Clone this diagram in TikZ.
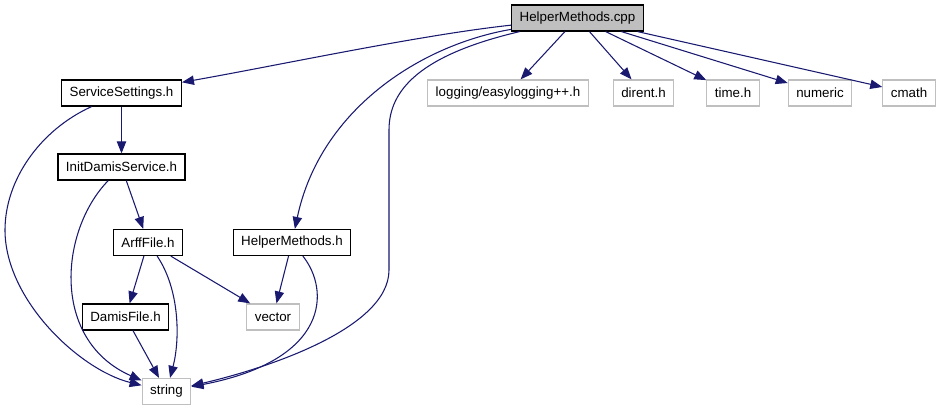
\documentclass[tikz,border=0pt]{standalone}
\usepackage{fontspec}
\setmainfont{Liberation Sans}
\usetikzlibrary{arrows.meta}
\definecolor{edgeblue}{HTML}{191970}
\definecolor{boxgray}{HTML}{BFBFBF}
\begin{document}
\begin{tikzpicture}[x=0.75pt, y=-0.75pt, font=\fontsize{10}{12}\selectfont,
    file/.style={draw=black, line width=0.9pt, minimum height=19.5pt,
        inner xsep=6pt, inner ysep=0pt},
    sysfile/.style={file, draw=boxgray},
    incl/.style={draw=edgeblue, line width=0.8pt,
        -{Triangle[length=9pt,width=7pt]}}]
    \useasboundingbox (0,0) rectangle (944,411);
    % glavni fajl
    \node [file, fill=boxgray] (cpp) at (577.5,18) {HelperMethods.cpp};
    % prvi red zaglavlja
    \node [file]    (svc)     at (121.5,93) {ServiceSettings.h};
    \node [sysfile] (logging) at (508,93)   {logging/easylogging++.h};
    \node [sysfile] (dirent)  at (643.5,93) {dirent.h};
    \node [sysfile] (time)    at (733,93)   {time.h};
    \node [sysfile] (numeric) at (820,93)   {numeric};
    \node [sysfile] (cmath)   at (909,93)   {cmath};
    % nizi redovi
    \node [file]    (init)   at (121.5,167) {InitDamisService.h};
    \node [file]    (arff)   at (148,242.5) {ArffFile.h};
    \node [file]    (hm)     at (292,242.5) {HelperMethods.h};
    \node [file]    (damis)  at (125.5,317) {DamisFile.h};
    \node [sysfile] (vector) at (273,317)   {vector};
    \node [sysfile] (string) at (166.5,391.5) {string};
    % ravne veze
    \foreach \h in {logging,dirent,time,numeric,cmath}{
        \draw [incl] (cpp) -- (\h);
    }
    \draw [incl] (svc) -- (init);
    \draw [incl] (init) -- (arff);
    \draw [incl] (arff) -- (damis);
    \draw [incl] (arff) -- (vector);
    \draw [incl] (hm) -- (vector);
    \draw [incl] (damis) -- (string);
    % zakrivljene veze
    \draw [incl] (cpp) .. controls (420,35) and (280,65) .. (svc);
    \draw [incl] (cpp) .. controls (420,45) and (320,110) .. (hm);
    \draw [incl] (cpp) .. controls (420,55) and (389,90) .. (389,130)
        -- (389,270) .. controls (389,330) and (260,370) .. (string);
    \draw [incl] (hm) .. controls (330,290) and (330,360) .. (string);
    \draw [incl] (svc) .. controls (40,130) and (5,180) .. (5,230)
        .. controls (5,300) and (80,370) .. (string);
    \draw [incl] (init) .. controls (60,230) and (50,340) .. (string);
    \draw [incl] (arff) .. controls (180,290) and (180,340) .. (string);
\end{tikzpicture}
\end{document}
